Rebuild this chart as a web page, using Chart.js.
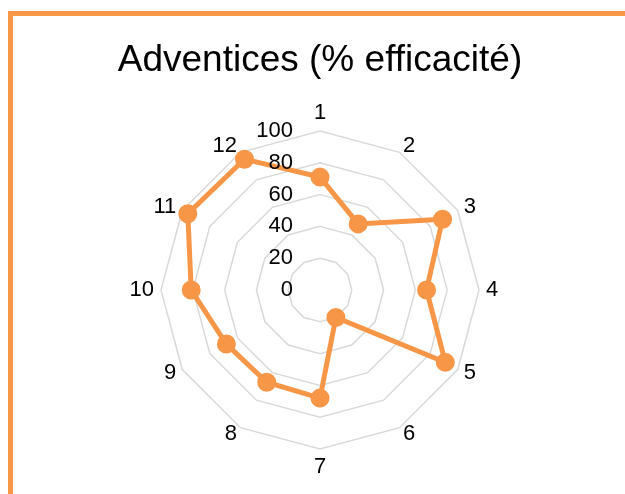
<!DOCTYPE html>
<html>
<head>
<meta charset="utf-8">
<script src="https://cdn.jsdelivr.net/npm/chart.js@4"></script>
<style>
  html, body { margin: 0; padding: 0; background: #fff; }
  #wrap { position: relative; width: 625px; height: 494px; overflow: hidden; }
  #frame {
    position: absolute; left: 8px; top: 11px; width: 640px; height: 500px;
    border-top: 5px solid #f79646; border-left: 5px solid #f79646;
  }
  canvas { position: absolute; left: 0; top: 0; }
</style>
</head>
<body>
<div id="wrap">
  <div id="frame"></div>
  <canvas id="myChart" width="625" height="494"></canvas>
</div>
<script>
// axes of the radar
const categories = ['1', '2', '3', '4', '5', '6', '7', '8', '9', '10', '11', '12'];
// % efficacité
const efficacite = [71, 48, 89, 67, 91, 20, 68, 67, 68, 81, 96, 95];
const tickValues = [0, 20, 40, 60, 80, 100];

const orange = '#f79646';
const fontFamily = '"Liberation Sans", Arial, sans-serif';

// tick labels sit to the left of the vertical axis, right aligned
const leftTicks = {
  id: 'leftTicks',
  afterDraw(chart) {
    const scale = chart.scales.r;
    const ctx = chart.ctx;
    ctx.save();
    ctx.font = '22px ' + fontFamily;
    ctx.fillStyle = '#000';
    ctx.textAlign = 'right';
    ctx.textBaseline = 'middle';
    tickValues.forEach((v) => {
      const d = scale.getDistanceFromCenterForValue(v);
      ctx.fillText(String(v), scale.xCenter - 27, scale.yCenter - d);
    });
    ctx.restore();
  }
};

// category labels anchored just outside each vertex (Excel style)
const outerLabels = {
  id: 'outerLabels',
  afterDraw(chart) {
    const scale = chart.scales.r;
    const ctx = chart.ctx;
    const n = categories.length;
    ctx.save();
    ctx.font = '22px ' + fontFamily;
    ctx.fillStyle = '#000';
    categories.forEach((label, i) => {
      const pos = scale.getPointPosition(i, scale.drawingArea + 7);
      const a = i * 2 * Math.PI / n;
      const s = Math.sin(a);
      const c = Math.cos(a);
      ctx.textAlign = s > 0.01 ? 'left' : (s < -0.01 ? 'right' : 'center');
      ctx.textBaseline = c > 0.99 ? 'bottom' : (c < -0.99 ? 'top' : 'middle');
      ctx.fillText(label, pos.x, pos.y);
    });
    ctx.restore();
  }
};

function initChart(target) {
  const data = {
    labels: categories,
    datasets: [{
      label: 'Adventices',
      data: efficacite,
      borderColor: orange,
      backgroundColor: orange,
      pointBackgroundColor: orange,
      pointBorderColor: orange,
      borderWidth: 5,
      pointRadius: 7,
      fill: false
    }]
  };

  const config = {
    type: 'radar',
    data: data,
    options: {
      responsive: false,
      animation: false,
      layout: { padding: { left: 15, right: 0, top: 0, bottom: 45 } },
      plugins: {
        legend: { display: false },
        tooltip: { enabled: false },
        title: {
          display: true,
          text: 'Adventices (% efficacité)',
          color: '#000',
          font: { family: fontFamily, size: 37, weight: 'normal', lineHeight: 1.2 },
          padding: { top: 39, bottom: 47.6 }
        }
      },
      scales: {
        r: {
          min: 0,
          max: 100,
          ticks: { stepSize: 20, display: false },
          grid: { color: '#d9d9d9', lineWidth: 1.5, circular: false },
          angleLines: { display: false },
          pointLabels: { display: false }
        }
      }
    },
    plugins: [leftTicks, outerLabels]
  };

  return new Chart(target, config);
}

document.addEventListener('DOMContentLoaded', () => {
  initChart(document.querySelector('#myChart'));
});
</script>
</body>
</html>
